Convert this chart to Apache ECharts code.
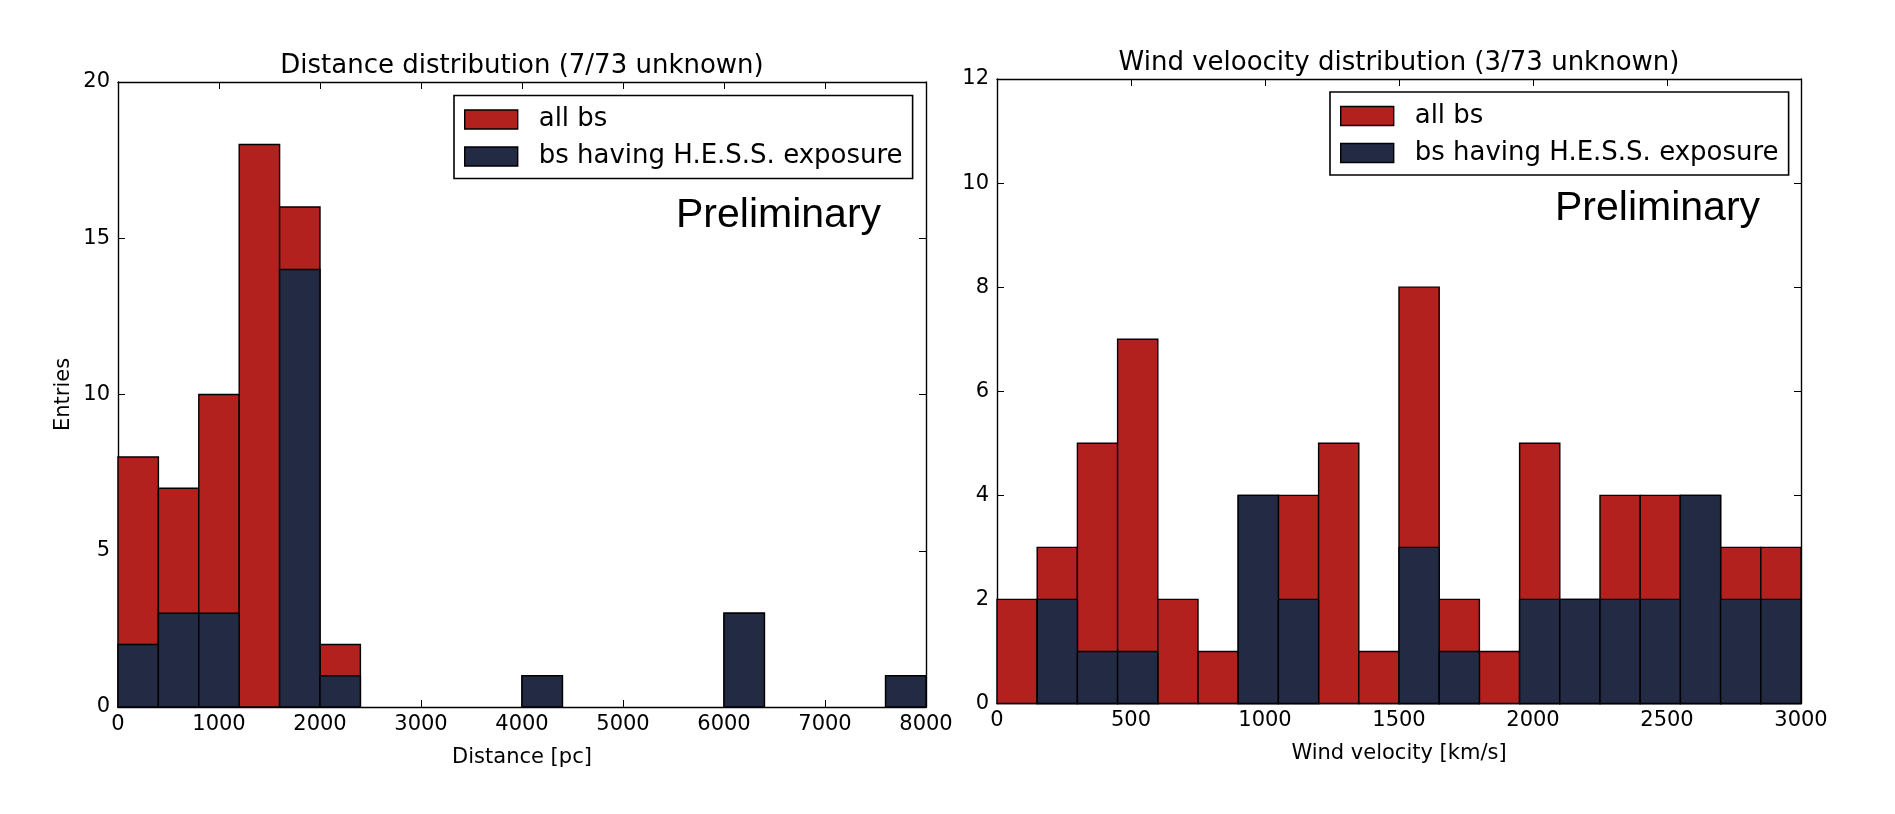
<!DOCTYPE html>
<html>
<head>
<meta charset="utf-8">
<script src="https://cdn.jsdelivr.net/npm/echarts@6/dist/echarts.min.js"></script>
<style>
html,body{margin:0;padding:0;background:#fff;}
#chart{width:1895px;height:814px;}
</style>
</head>
<body>
<div id="chart"></div>
<script>
// ---- data ----
const distBinEdges = [0,400,800,1200,1600,2000,2400,2800,3200,3600,4000,4400,4800,5200,5600,6000,6400,6800,7200,7600,8000];
const distAll  = [8,7,10,18,16,2,0,0,0,0,1,0,0,0,0,3,0,0,0,1];
const distHess = [2,3,3,0,14,1,0,0,0,0,1,0,0,0,0,3,0,0,0,1];
const distXTicks = [0,1000,2000,3000,4000,5000,6000,7000,8000];
const distYTicks = [0,5,10,15,20];

const windBinEdges = [0,150,300,450,600,750,900,1050,1200,1350,1500,1650,1800,1950,2100,2250,2400,2550,2700,2850,3000];
const windAll  = [2,3,5,7,2,1,4,4,5,1,8,2,1,5,2,4,4,4,3,3];
const windHess = [0,2,1,1,0,0,4,2,0,0,3,1,0,2,2,2,2,4,2,2];
const windXTicks = [0,500,1000,1500,2000,2500,3000];
const windYTicks = [0,2,4,6,8,10,12];

const seriesNames = ['all bs','bs having H.E.S.S. exposure'];
const titles = ['Distance distribution (7/73 unknown)','Wind veloocity distribution (3/73 unknown)'];
const xNames = ['Distance [pc]','Wind velocity [km/s]'];
const yName = 'Entries';

// ---- style ----
const RED = '#b3211f';
const NAVY = '#232b44';
const FONT = 'DejaVu Sans';

function toHist(edges, vals){
  return vals.map((v,i)=>[edges[i], edges[i+1], v]);
}
function makeRender(color){
  return function(params, api){
    const x0 = api.value(0), x1 = api.value(1), y = api.value(2);
    if (!y) return null;
    const p0 = api.coord([x0, y]);
    const p1 = api.coord([x1, 0]);
    return {
      type:'rect',
      shape:{x:p0[0], y:p0[1], width:p1[0]-p0[0], height:p1[1]-p0[1]},
      style:{fill:color, stroke:'#000', lineWidth:1.4}
    };
  };
}
function xAx(gridIndex, ticks, pos, name){
  const step = ticks[1]-ticks[0];
  return {
    type:'value', gridIndex, position:pos,
    min:ticks[0], max:ticks[ticks.length-1], interval:step,
    name: name || '', nameLocation:'middle', nameGap:40,
    nameTextStyle:{fontFamily:FONT, fontSize:21, color:'#000'},
    axisLine:{show:true, onZero:false, lineStyle:{color:'#000', width:1.4}},
    axisTick:{show:true, inside:true, length:7, lineStyle:{color:'#000', width:1}},
    axisLabel:{show: pos==='bottom', fontFamily:FONT, fontSize:21, color:'#000', margin:7,
               formatter:v=>String(v)},
    splitLine:{show:false}
  };
}
function yAx(gridIndex, ticks, pos, name){
  const step = ticks[1]-ticks[0];
  return {
    type:'value', gridIndex, position:pos,
    min:ticks[0], max:ticks[ticks.length-1], interval:step,
    name: name || '', nameLocation:'middle', nameGap:44,
    nameTextStyle:{fontFamily:FONT, fontSize:21, color:'#000'},
    axisLine:{show:true, onZero:false, lineStyle:{color:'#000', width:1.4}},
    axisTick:{show:true, inside:true, length:7, lineStyle:{color:'#000', width:1}},
    axisLabel:{show: pos==='left', fontFamily:FONT, fontSize:21, color:'#000', margin:8,
               formatter:v=>String(v)},
    splitLine:{show:false}
  };
}
function legend(left, top){
  return {
    left, top, orient:'vertical', selectedMode:false,
    padding:[11,10,9,10], itemGap:11, itemWidth:53, itemHeight:19,
    borderColor:'#000', borderWidth:1.6, backgroundColor:'#fff',
    textStyle:{fontFamily:FONT, fontSize:26, color:'#000', lineHeight:19, padding:[0,0,0,16]},
    data:[
      {name:seriesNames[0], icon:'rect', itemStyle:{color:RED, borderColor:'#000', borderWidth:1.4}},
      {name:seriesNames[1], icon:'rect', itemStyle:{color:NAVY, borderColor:'#000', borderWidth:1.4}}
    ]
  };
}

const chart = echarts.init(document.getElementById('chart'), null, {renderer:'canvas'});
const option = {
  backgroundColor:'#fff',
  animation:false,
  title:[
    {text:titles[0], left:522, top:53, textAlign:'center', padding:0,
     textStyle:{fontFamily:FONT, fontSize:26, fontWeight:'normal', color:'#000', lineHeight:26}},
    {text:titles[1], left:1399, top:50, textAlign:'center', padding:0,
     textStyle:{fontFamily:FONT, fontSize:26, fontWeight:'normal', color:'#000', lineHeight:26}}
  ],
  grid:[
    {left:118, top:82, width:808, height:625, containLabel:false},
    {left:997, top:79, width:804, height:624.5, containLabel:false}
  ],
  xAxis:[
    xAx(0, distXTicks, 'bottom', xNames[0]),
    xAx(0, distXTicks, 'top'),
    xAx(1, windXTicks, 'bottom', xNames[1]),
    xAx(1, windXTicks, 'top')
  ],
  yAxis:[
    yAx(0, distYTicks, 'left', yName),
    yAx(0, distYTicks, 'right'),
    yAx(1, windYTicks, 'left'),
    yAx(1, windYTicks, 'right')
  ],
  legend:[legend(454, 95.5), legend(1330, 92)],
  graphic:[
    {type:'text', left:676, top:195, z:100,
     style:{text:'Preliminary', fontFamily:'Liberation Sans', fontSize:41, fill:'#000'}},
    {type:'text', left:1555, top:188, z:100,
     style:{text:'Preliminary', fontFamily:'Liberation Sans', fontSize:41, fill:'#000'}}
  ],
  series:[
    {type:'custom', name:seriesNames[0], xAxisIndex:0, yAxisIndex:0, z:2,
     itemStyle:{color:RED}, renderItem:makeRender(RED), encode:{x:[0,1], y:2},
     data:toHist(distBinEdges, distAll)},
    {type:'custom', name:seriesNames[1], xAxisIndex:0, yAxisIndex:0, z:3,
     itemStyle:{color:NAVY}, renderItem:makeRender(NAVY), encode:{x:[0,1], y:2},
     data:toHist(distBinEdges, distHess)},
    {type:'custom', name:seriesNames[0], xAxisIndex:2, yAxisIndex:2, z:2,
     itemStyle:{color:RED}, renderItem:makeRender(RED), encode:{x:[0,1], y:2},
     data:toHist(windBinEdges, windAll)},
    {type:'custom', name:seriesNames[1], xAxisIndex:2, yAxisIndex:2, z:3,
     itemStyle:{color:NAVY}, renderItem:makeRender(NAVY), encode:{x:[0,1], y:2},
     data:toHist(windBinEdges, windHess)}
  ]
};
chart.setOption(option);
</script>
</body>
</html>
